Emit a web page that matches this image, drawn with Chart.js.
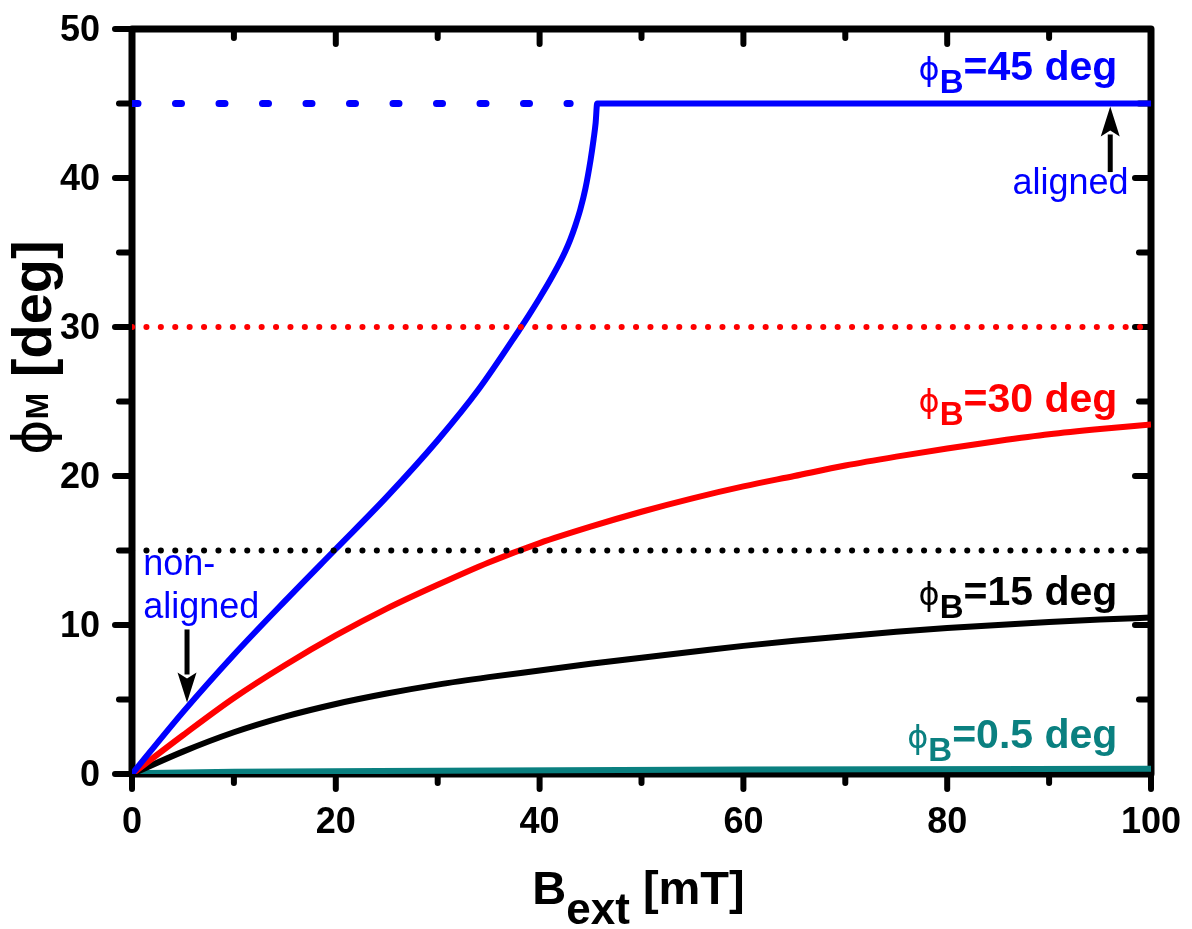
<!DOCTYPE html>
<html>
<head>
<meta charset="utf-8">
<script src="https://cdn.jsdelivr.net/npm/chart.js@4"></script>
<style>
  html, body { margin: 0; padding: 0; background: #fff; }
</style>
</head>
<body>
<canvas id="myChart" width="1192" height="929"></canvas>
<script>
// phi_B = 45 deg curve
const blueX = [0, 5, 10, 15, 20, 25, 30, 34, 38, 39, 40, 41, 42, 42.5, 43, 43.5, 44, 44.5, 45, 45.3, 45.5, 45.65, 100];
const blueY = [0, 4.15, 8.0, 11.6, 15.1, 18.6, 22.4, 25.8, 29.8, 30.85, 31.95, 33.1, 34.35, 35.05, 35.85, 36.8, 37.9, 39.3, 41.2, 42.6, 43.7, 45, 45];
// phi_B = 30 deg curve
const redX = [0, 5, 10, 15, 20, 25, 30, 35, 40, 45, 50, 55, 60, 65, 70, 75, 80, 85, 90, 95, 100];
const redY = [0, 2.6, 5.1, 7.3, 9.3, 11.1, 12.7, 14.2, 15.5, 16.6, 17.6, 18.5, 19.3, 20.0, 20.7, 21.3, 21.85, 22.35, 22.8, 23.15, 23.45];
// phi_B = 15 deg curve
const blackX = [0, 5, 10, 15, 20, 25, 30, 35, 40, 45, 50, 55, 60, 65, 70, 75, 80, 85, 90, 95, 100];
const blackY = [0, 1.5, 2.8, 3.85, 4.7, 5.4, 6.0, 6.5, 6.95, 7.4, 7.8, 8.2, 8.6, 8.95, 9.25, 9.55, 9.8, 10.0, 10.2, 10.37, 10.5];
// phi_B = 0.5 deg curve
const tealX = [0, 10, 30, 60, 100];
const tealY = [0.05, 0.15, 0.22, 0.3, 0.35];
// dotted reference levels (field direction)
const refBlueX = [0, 43];
const refBlueY = [45, 45];
const refRedX = [0, 100];
const refRedY = [30, 30];
const refBlackX = [0, 100];
const refBlackY = [15, 15];

const xTicks = [0, 20, 40, 60, 80, 100];
const yTicks = [0, 10, 20, 30, 40, 50];

const toPts = (xs, ys) => xs.map((x, i) => ({ x: x, y: ys[i] }));

const BLUE = '#0000ff', RED = '#ff0000', BLACK = '#000000', TEAL = '#0a8080';
const SANS = '"Liberation Sans", Arial, sans-serif';
const PHI = '"DejaVu Sans", sans-serif';

// draw text made of pieces (for subscripts)
function richText(c, parts, x, y, align) {
    let w = 0;
    parts.forEach(p => { c.font = p.font; p.w = c.measureText(p.t).width; w += p.w; });
    let cx = x;
    if (align === 'right') cx = x - w;
    if (align === 'center') cx = x - w / 2;
    c.textAlign = 'left';
    c.textBaseline = 'alphabetic';
    parts.forEach(p => {
        c.font = p.font;
        c.fillStyle = p.color;
        c.fillText(p.t, cx, y + (p.dy || 0));
        cx += p.w;
    });
}

function arrow(c, x, y1, y2) {
    // from y1 (tail) to y2 (tip)
    const dir = y2 > y1 ? 1 : -1;
    const head = 28;
    c.strokeStyle = '#000';
    c.fillStyle = '#000';
    c.lineWidth = 5;
    c.beginPath();
    c.moveTo(x, y1);
    c.lineTo(x, y2 - dir * head);
    c.stroke();
    c.beginPath();
    c.moveTo(x, y2);
    c.lineTo(x - 9.5, y2 - dir * (head + 2));
    c.lineTo(x, y2 - dir * (head - 4));
    c.lineTo(x + 9.5, y2 - dir * (head + 2));
    c.closePath();
    c.fill();
}

const framePlugin = {
    id: 'frame',
    beforeDatasetsDraw(chart) {
        const c = chart.ctx;
        const a = chart.chartArea;
        const sx = chart.scales.x, sy = chart.scales.y;
        c.save();
        c.strokeStyle = '#000';
        c.lineCap = 'round';
        c.lineWidth = 6;
        // x ticks: bottom outward, top inward
        for (let v = 0; v <= 100; v += 10) {
            const px = sx.getPixelForValue(v);
            const major = v % 20 === 0;
            c.beginPath();
            c.moveTo(px, a.bottom);
            c.lineTo(px, a.bottom + (major ? 15 : 9));
            c.moveTo(px, a.top);
            c.lineTo(px, a.top + (major ? 15 : 9));
            c.stroke();
        }
        // y ticks: left outward, right inward
        for (let v = 0; v <= 50; v += 5) {
            const py = sy.getPixelForValue(v);
            const major = v % 10 === 0;
            c.beginPath();
            c.moveTo(a.left, py);
            c.lineTo(a.left - (major ? 17 : 13), py);
            c.moveTo(a.right, py);
            c.lineTo(a.right - (major ? 16 : 12), py);
            c.stroke();
        }
        c.lineWidth = 7;
        c.lineCap = 'butt';
        c.lineJoin = 'round';
        c.strokeRect(a.left, a.top, a.right - a.left, a.bottom - a.top);

        // tick labels
        c.fillStyle = '#000';
        c.font = 'bold 36px ' + SANS;
        c.textBaseline = 'alphabetic';
        c.textAlign = 'center';
        xTicks.forEach(v => c.fillText(String(v), sx.getPixelForValue(v), a.bottom + 59));
        c.textAlign = 'right';
        yTicks.forEach(v => c.fillText(String(v), a.left - 32, sy.getPixelForValue(v) + 12));
        c.restore();
    }
};

const notesPlugin = {
    id: 'notes',
    afterDatasetsDraw(chart) {
        const c = chart.ctx;
        const sx = chart.scales.x, sy = chart.scales.y;
        const X = v => sx.getPixelForValue(v);
        const Y = v => sy.getPixelForValue(v);
        c.save();
        const lab = (val, color, xr, yb) => richText(c, [
            { t: '\u03D5', font: '32px ' + PHI, color: color },
            { t: 'B', font: 'bold 33px ' + SANS, color: color, dy: 13 },
            { t: '=' + val + ' deg', font: 'bold 41px ' + SANS, color: color }
        ], X(xr), Y(yb), 'right');
        lab('45', BLUE, 96.7, 46.6);
        lab('30', RED, 96.7, 24.3);
        lab('15', BLACK, 96.7, 11.35);
        lab('0.5', TEAL, 96.7, 1.75);

        richText(c, [{ t: 'aligned', font: '36px ' + SANS, color: BLUE }], X(86.4), Y(38.9), 'left');
        richText(c, [{ t: 'non-', font: '36px ' + SANS, color: BLUE }], X(1.1), Y(13.35), 'left');
        richText(c, [{ t: 'aligned', font: '36px ' + SANS, color: BLUE }], X(1.1), Y(10.5), 'left');

        arrow(c, X(96), Y(40.4), Y(44.8));
        arrow(c, X(5.4), Y(9.7), Y(4.8));

        // axis titles
        richText(c, [
            { t: 'B', font: 'bold 47px ' + SANS, color: '#000' },
            { t: 'ext', font: 'bold 44px ' + SANS, color: '#000', dy: 20 },
            { t: ' [mT]', font: 'bold 47px ' + SANS, color: '#000' }
        ], (chart.chartArea.left + chart.chartArea.right) / 2 - 3, 904, 'center');

        c.translate(51, 455);
        c.rotate(-Math.PI / 2);
        richText(c, [
            { t: '\u03D5', font: '54px ' + PHI, color: '#000' },
            { t: 'M', font: 'bold 32px ' + SANS, color: '#000', dy: -3 },
            { t: ' [deg]', font: 'bold 56px ' + SANS, color: '#000' }
        ], 0, 0, 'left');
        c.restore();
    }
};

const ctx = document.getElementById('myChart').getContext('2d');
const chart = new Chart(ctx, {
    type: 'line',
    data: {
        datasets: [
            { data: toPts(refRedX, refRedY), borderColor: RED, borderWidth: 6, borderDash: [0.1, 14.3], borderCapStyle: 'round' },
            { data: toPts(refBlackX, refBlackY), borderColor: BLACK, borderWidth: 6, borderDash: [0.1, 14.3], borderCapStyle: 'round' },
            { data: toPts(refBlueX, refBlueY), borderColor: BLUE, borderWidth: 7, borderDash: [6, 37.5], borderCapStyle: 'round' },
            { data: toPts(blueX, blueY), borderColor: BLUE, borderWidth: 6, cubicInterpolationMode: 'monotone' },
            { data: toPts(redX, redY), borderColor: RED, borderWidth: 6, cubicInterpolationMode: 'monotone' },
            { data: toPts(blackX, blackY), borderColor: BLACK, borderWidth: 6, cubicInterpolationMode: 'monotone' },
            { data: toPts(tealX, tealY), borderColor: TEAL, borderWidth: 6, cubicInterpolationMode: 'monotone' }
        ]
    },
    options: {
        responsive: false,
        animation: false,
        layout: { padding: { top: 29, right: 41, left: 0, bottom: 0 } },
        elements: { point: { radius: 0 }, line: { fill: false } },
        plugins: { legend: { display: false }, tooltip: { enabled: false } },
        scales: {
            x: {
                type: 'linear', min: 0, max: 100,
                grid: { display: false, drawTicks: false },
                border: { display: false },
                ticks: { display: false },
                afterFit: s => { s.height = 155; }
            },
            y: {
                type: 'linear', min: 0, max: 50,
                grid: { display: false, drawTicks: false },
                border: { display: false },
                ticks: { display: false },
                afterFit: s => { s.width = 132; }
            }
        }
    },
    plugins: [framePlugin, notesPlugin]
});
</script>
</body>
</html>
